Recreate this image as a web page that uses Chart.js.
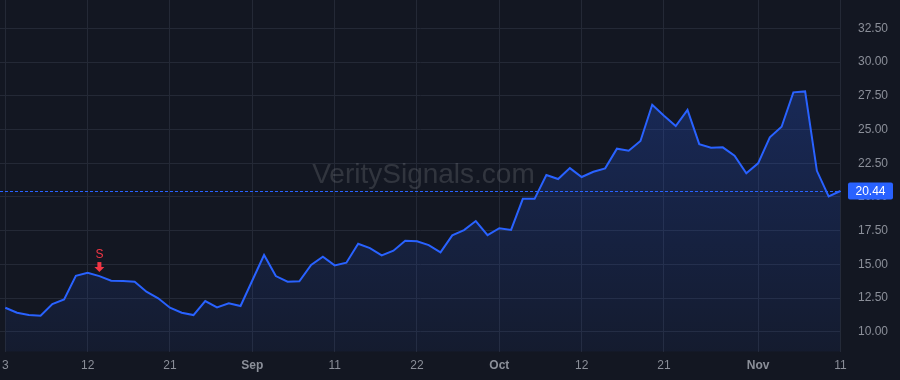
<!DOCTYPE html>
<html><head><meta charset="utf-8">
<script src="https://cdn.jsdelivr.net/npm/chart.js@4.4.0/dist/chart.umd.min.js"></script>
<style>html,body{margin:0;padding:0;background:#131722;}#wrap{width:900px;height:380px;position:relative;}</style>
</head><body><div id="wrap"><canvas id="c"></canvas></div>
<script>
// Trading days (2020-08-03 .. 2020-11-11)
const dates = [
 '2020-08-03','2020-08-04','2020-08-05','2020-08-06','2020-08-07','2020-08-10','2020-08-11','2020-08-12','2020-08-13','2020-08-14',
 '2020-08-17','2020-08-18','2020-08-19','2020-08-20','2020-08-21','2020-08-24','2020-08-25','2020-08-26','2020-08-27','2020-08-28',
 '2020-08-31','2020-09-01','2020-09-02','2020-09-03','2020-09-04','2020-09-08','2020-09-09','2020-09-10','2020-09-11','2020-09-14',
 '2020-09-15','2020-09-16','2020-09-17','2020-09-18','2020-09-21','2020-09-22','2020-09-23','2020-09-24','2020-09-25','2020-09-28',
 '2020-09-29','2020-09-30','2020-10-01','2020-10-02','2020-10-05','2020-10-06','2020-10-07','2020-10-08','2020-10-09','2020-10-12',
 '2020-10-13','2020-10-14','2020-10-15','2020-10-16','2020-10-19','2020-10-20','2020-10-21','2020-10-22','2020-10-23','2020-10-26',
 '2020-10-27','2020-10-28','2020-10-29','2020-10-30','2020-11-02','2020-11-03','2020-11-04','2020-11-05','2020-11-06','2020-11-09',
 '2020-11-10','2020-11-11'
];
const values = [
 11.78,11.41,11.24,11.19,12.05,12.40,14.15,14.38,14.13,13.78,
 13.76,13.71,12.97,12.48,11.78,11.41,11.24,12.28,11.81,12.11,
 11.91,13.80,15.69,14.13,13.71,13.74,14.95,15.56,14.92,15.12,
 16.53,16.21,15.67,16.01,16.75,16.71,16.43,15.89,17.15,17.54,
 18.21,17.17,17.68,17.55,19.86,19.86,21.63,21.33,22.14,21.48,
 21.87,22.12,23.58,23.43,24.15,26.84,26.02,25.26,26.45,23.92,
 23.65,23.68,23.06,21.75,22.49,24.42,25.21,27.76,27.83,21.94,
 20.04,20.44
];
const tickIndices = [0,7,14,21,28,35,42,49,56,64,71];
const tickLabels = ['3','12','21','Sep','11','22','Oct','12','21','Nov','11'];
const boldLabels = ['Sep','Oct','Nov'];
const yTicks = [10,12.5,15,17.5,20,22.5,25,27.5,30,32.5];
const signals = [{index: 8, text: 'S'}];
const watermarkText = 'VeritySignals.com';
const lastValue = values[values.length - 1];

const FONT = '"Liberation Sans", Arial, Helvetica, sans-serif';
const BG = '#131722';
const GRID = '#242936';
const TEXT = '#8b8f99';
const BLUE = '#2962ff';
const RED = '#f23645';

function zeroPad(axis) {
  axis.paddingTop = 0; axis.paddingBottom = 0; axis.paddingLeft = 0; axis.paddingRight = 0;
}

const bgPlugin = {
  id: 'bg',
  beforeDraw(chart) {
    const c = chart.ctx;
    c.save(); c.fillStyle = BG; c.fillRect(0, 0, chart.width, chart.height); c.restore();
  }
};
const watermarkPlugin = {
  id: 'wm',
  beforeDatasetsDraw(chart) {
    const {ctx, chartArea: a} = chart;
    ctx.save();
    ctx.font = '28px ' + FONT;
    ctx.fillStyle = 'rgba(255,255,255,0.13)';
    ctx.textAlign = 'center';
    ctx.textBaseline = 'alphabetic';
    ctx.fillText(watermarkText, (a.left + a.right) / 2 + 3, a.top + (a.bottom - a.top) * 0.52);
    ctx.restore();
  }
};
const overlayPlugin = {
  id: 'overlay',
  afterDatasetsDraw(chart) {
    const {ctx, chartArea: a, scales} = chart;
    const y = scales.y.getPixelForValue(lastValue);
    ctx.save();
    ctx.strokeStyle = BLUE; ctx.lineWidth = 1; ctx.setLineDash([3, 2]);
    ctx.beginPath(); ctx.moveTo(a.left, Math.round(y) + 0.5); ctx.lineTo(a.right, Math.round(y) + 0.5); ctx.stroke();
    ctx.setLineDash([]);
    signals.forEach(s => {
      const px = scales.x.getPixelForValue(s.index);
      const py = scales.y.getPixelForValue(values[s.index]);
      const tip = py - 4;
      ctx.fillStyle = RED;
      ctx.beginPath();
      ctx.moveTo(px - 5, tip - 5); ctx.lineTo(px + 5, tip - 5); ctx.lineTo(px, tip); ctx.closePath(); ctx.fill();
      ctx.fillRect(px - 2, tip - 10, 4, 5.5);
      ctx.font = '12px ' + FONT; ctx.textAlign = 'center'; ctx.textBaseline = 'middle';
      ctx.fillText(s.text, px, tip - 17);
    });
    ctx.restore();
  },
  afterDraw(chart) {
    const {ctx, chartArea: a, scales} = chart;
    const y = scales.y.getPixelForValue(lastValue);
    ctx.save();
    const x0 = a.right + 7, w = 45, h = 17;
    ctx.fillStyle = BLUE;
    ctx.beginPath();
    if (ctx.roundRect) ctx.roundRect(x0, y - h / 2, w, h, 2); else ctx.rect(x0, y - h / 2, w, h);
    ctx.fill();
    ctx.fillStyle = '#ffffff'; ctx.font = '12px ' + FONT; ctx.textAlign = 'center'; ctx.textBaseline = 'middle';
    ctx.fillText(lastValue.toFixed(2), x0 + w / 2, y + 0.5);
    ctx.restore();
  }
};

new Chart(document.getElementById('c'), {
  type: 'line',
  data: {
    labels: dates,
    datasets: [{
      data: values.map((v, i) => ({x: i, y: v})),
      borderColor: BLUE,
      borderWidth: 2,
      pointRadius: 0,
      tension: 0,
      fill: 'start',
      backgroundColor(ctx) {
        const a = ctx.chart.chartArea;
        if (!a) return 'rgba(41,98,255,0.15)';
        const g = ctx.chart.ctx.createLinearGradient(0, a.top, 0, a.bottom);
        g.addColorStop(0, 'rgba(41,98,255,0.30)');
        g.addColorStop(1, 'rgba(41,98,255,0.06)');
        return g;
      }
    }]
  },
  options: {
    responsive: true,
    maintainAspectRatio: false,
    animation: false,
    layout: {padding: 0},
    plugins: {legend: {display: false}, tooltip: {enabled: false}},
    scales: {
      x: {
        type: 'linear',
        min: -0.45,
        max: 71.05,
        afterBuildTicks(axis) { axis.ticks = tickIndices.map(v => ({value: v})); },
        afterFit(axis) { axis.height = 28.3; zeroPad(axis); },
        grid: {color: GRID, drawTicks: false},
        border: {display: false},
        ticks: {
          autoSkip: false, maxRotation: 0, padding: 7, color: TEXT,
          callback(v) { const k = tickIndices.indexOf(v); return k >= 0 ? tickLabels[k] : ''; },
          font(ctx) {
            const k = ctx.tick ? tickIndices.indexOf(ctx.tick.value) : -1;
            const lbl = k >= 0 ? tickLabels[k] : '';
            return {family: FONT, size: 12, weight: boldLabels.includes(lbl) ? 'bold' : 'normal'};
          }
        }
      },
      y: {
        position: 'right',
        min: 8.52,
        max: 34.61,
        afterBuildTicks(axis) { axis.ticks = yTicks.map(v => ({value: v})); },
        afterFit(axis) { axis.width = 59; zeroPad(axis); },
        grid: {color: GRID, drawTicks: false},
        border: {display: false},
        ticks: {
          padding: 17, color: TEXT, font: {family: FONT, size: 12},
          callback(v) { return Number(v).toFixed(2); }
        }
      }
    }
  },
  plugins: [bgPlugin, watermarkPlugin, overlayPlugin]
});
</script>
</body></html>
